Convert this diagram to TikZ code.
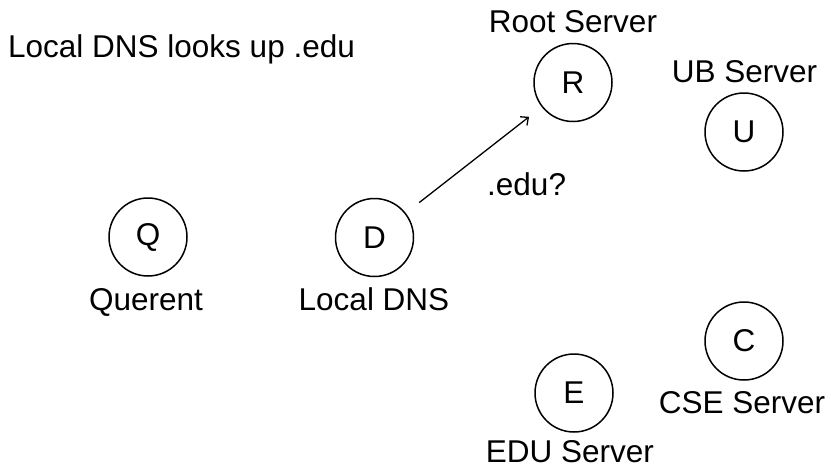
\documentclass[tikz,border=0pt]{standalone}
\usepackage{fontspec}
\setmainfont{Liberation Sans}
\usetikzlibrary{arrows.meta}
\begin{document}
\begin{tikzpicture}[x=1pt,y=-1pt,
  every node/.style={font=\fontsize{31.5}{36}\selectfont},
  srv/.style={circle,draw,line width=1.5pt,minimum size=78pt,inner sep=0pt},
  lbl/.style={anchor=base,inner sep=0pt},
  conn/.style={line width=1.3pt,-{Straight Barb[length=6pt,width=11pt,line width=1.3pt]},shorten <=17pt,shorten >=16pt}]
\useasboundingbox (0,0) rectangle (831,467);
\node[lbl,anchor=base west] (title) at (8,57) {Local DNS looks up .edu};
\node[srv] (R) at (573,82.5) {R};
\node[srv] (U) at (744,132) {U};
\node[srv] (Q) at (148,237) {Q};
\node[srv] (D) at (374.5,237.5) {D};
\node[srv] (C) at (744,341) {C};
\node[srv] (E) at (574,393) {E};
\node[lbl] (Rl) at (573,32) {Root Server};
\node[lbl] (Ul) at (744.5,82) {UB Server};
\node[lbl] (Ql) at (146,310) {Querent};
\node[lbl] (Dl) at (374,310) {Local DNS};
\node[lbl] (Cl) at (742,413) {CSE Server};
\node[lbl] (El) at (570,462) {EDU Server};
\node[lbl,anchor=base west] (q) at (487,195) {.edu?};
\draw[conn] (D) -- (R);
\end{tikzpicture}
\end{document}
